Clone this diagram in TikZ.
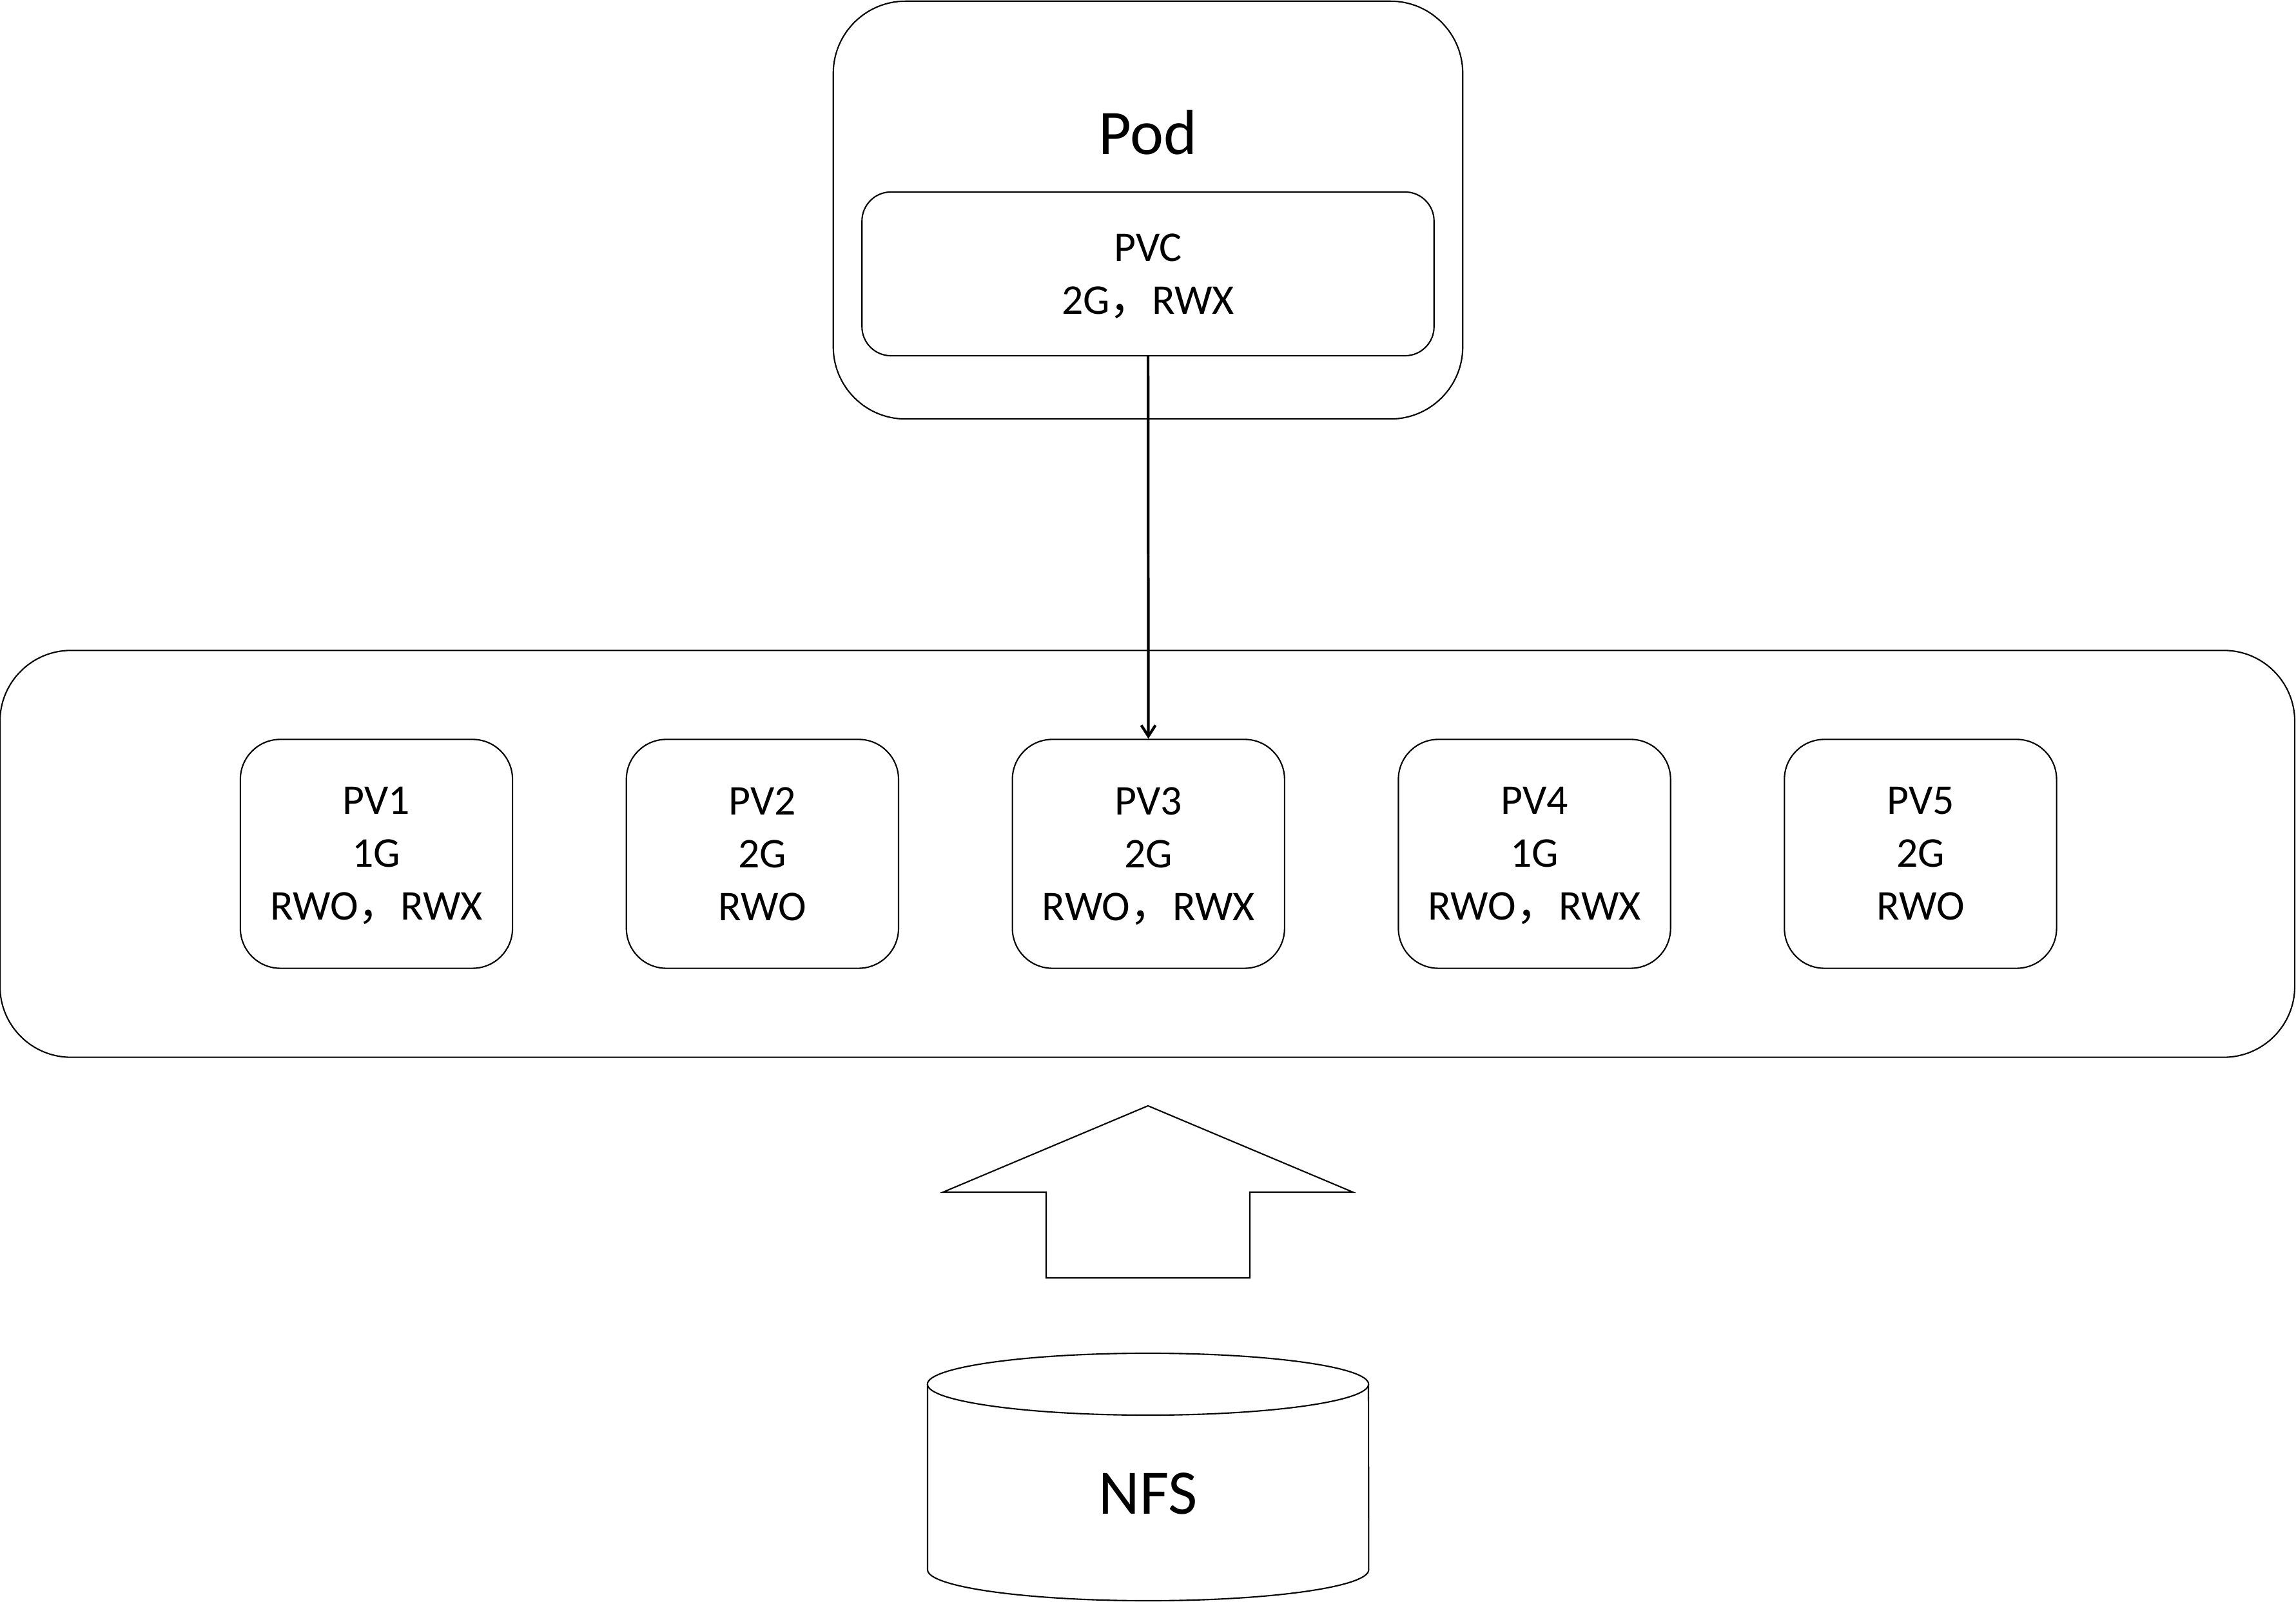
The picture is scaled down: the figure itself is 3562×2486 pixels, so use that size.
\documentclass[tikz,border=0pt]{standalone}
\usepackage{fontspec}
\setmainfont{Carlito}
\newfontfamily\cjk{Noto Sans CJK SC}
\newcommand{\zhcomma}{{\cjk\smash{，}}}
\usetikzlibrary{arrows.meta, positioning}

\begin{document}
\begin{tikzpicture}[x=0.01cm, y=-0.01cm, node distance=1.744cm, line width=0.6pt,
        roundbox/.style={draw, rounded corners=#1, inner sep=0pt, align=center},
        pvbox/.style={roundbox=0.62cm, minimum width=4.22cm, minimum height=3.55cm, font=\fontsize{18.7}{23.3}\selectfont},
        bigtext/.style={font=\fontsize{28}{34}\selectfont, anchor=base}]
    \useasboundingbox (0,0) rectangle (3562,2486);

    \node (pod) [roundbox=1.12cm, minimum width=9.76cm, minimum height=6.48cm] at (1781,326) {};
    \node (podname) [bigtext] at (1781,240) {Pod};
    \node (pvc) [pvbox, roundbox=0.45cm, minimum width=8.87cm, minimum height=2.54cm] at (1781,425) {PVC\\2G\zhcomma RWX};

    \node (pool) [roundbox=1.1cm, minimum width=35.58cm, minimum height=6.31cm] at (1780,1325) {};
    \node (pv1) [pvbox] at (584,1325) {PV1\\1G\\RWO\zhcomma RWX};
    \node (pv2) [pvbox, right=of pv1] {PV2\\2G\\RWO};
    \node (pv3) [pvbox, right=of pv2] {PV3\\2G\\RWO\zhcomma RWX};
    \node (pv4) [pvbox, right=of pv3] {PV4\\1G\\RWO\zhcomma RWX};
    \node (pv5) [pvbox, right=of pv4] {PV5\\2G\\RWO};

    \path [-{Straight Barb[length=0.17cm, width=0.22cm]}, line width=1.2pt]
        (pvc) edge (pv3);

    \draw (1781,1716) -- (2099,1850) -- (1939,1850) -- (1939,1983)
        -- (1623,1983) -- (1623,1850) -- (1463,1850) -- cycle;

    \node (nfs) [bigtext] at (1781,2349) {NFS};
    \draw (1439,2148) -- (1439,2436) arc [start angle=180, end angle=360, x radius=3.42cm, y radius=0.48cm] -- (2123,2148);
    \draw (1781,2148) ellipse [x radius=3.42cm, y radius=0.48cm];
\end{tikzpicture}
\end{document}
